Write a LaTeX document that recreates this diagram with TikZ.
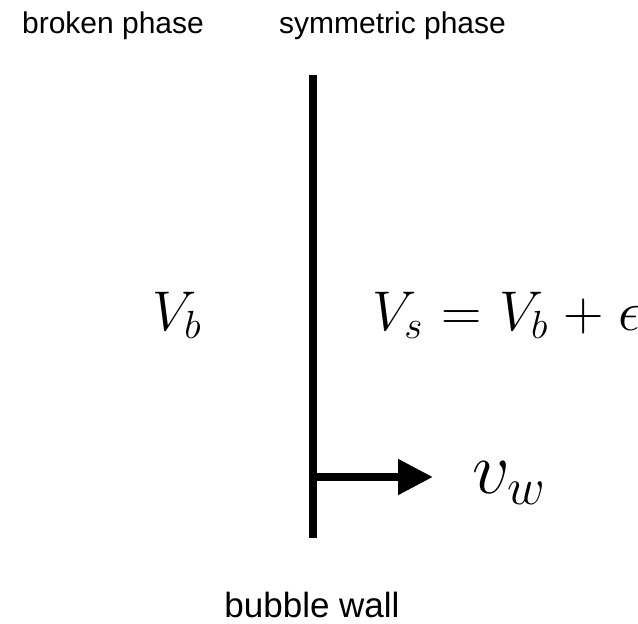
\RequirePackage{fix-cm}
\documentclass[tikz,border=0pt]{standalone}
\usepackage{fontspec}
\newfontfamily\lblfont{Liberation Sans}
\usetikzlibrary{arrows.meta}

\begin{document}
\begin{tikzpicture}[
  x=0.5pt, y=-0.5pt,
  >={Triangle[length=17.5pt, width=17pt]},
  wall/.style  = {line width=4pt},
  vel/.style   = {line width=4pt},
  lbl/.style   = {inner sep=0pt, anchor=base, font=\lblfont\fontsize{15}{18}\selectfont},
  pot/.style   = {inner sep=0pt, anchor=base west, font=\fontsize{28}{34}\selectfont},
]
  \useasboundingbox (0,0) rectangle (638,623);

  % ── phase labels ──────────────────────────────────────────────────────
  \node[lbl] (brk) at (113, 33)   {broken phase};
  \node[lbl] (sym) at (392.5, 33) {symmetric phase};

  % ── the wall and its velocity ─────────────────────────────────────────
  \coordinate (wtop) at (313, 75);
  \coordinate (wbot) at (313, 538);
  \draw[wall] (wtop) -- (wbot);

  \coordinate (vstart) at (317, 477);
  \coordinate (vtip)   at (433, 477);
  \draw[vel, ->] (vstart) -- (vtip);
  \node[inner sep=0pt, anchor=base west, font=\fontsize{37}{44}\selectfont]
       (vw) at (472, 493) {$v_w$};

  % ── potentials on either side ─────────────────────────────────────────
  \node[pot] (vb) at (152, 330) {$V_b$};
  \node[pot] (vs) at (372, 330)
       {$\thickmuskip=5.7mu \medmuskip=4.7mu V_s = V_b + \epsilon$};

  \node[lbl, font=\lblfont\fontsize{17.5}{21}\selectfont] (bw) at (312, 617) {bubble wall};

\end{tikzpicture}
\end{document}
